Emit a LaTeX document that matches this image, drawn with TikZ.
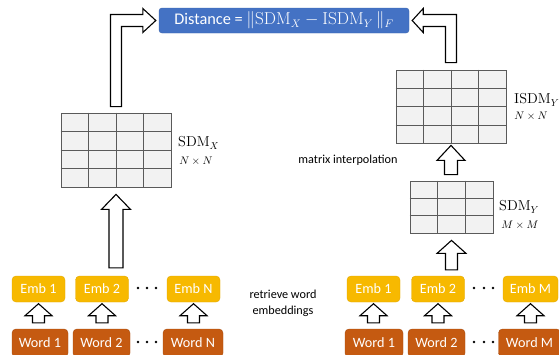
\documentclass[tikz,border=0pt]{standalone}
\usepackage[no-math]{fontspec}
\setmainfont{Carlito}
\usetikzlibrary{calc}
\definecolor{dblue}{HTML}{4472C4}
\definecolor{dbluel}{HTML}{3A64AE}
\definecolor{embc}{HTML}{F7B900}
\definecolor{embl}{HTML}{E2A800}
\definecolor{wordc}{HTML}{C55A11}
\definecolor{wordl}{HTML}{A84C0E}
\definecolor{cellc}{HTML}{F2F2F2}
\definecolor{gridc}{HTML}{5A5A5A}
\newcommand{\blkup}[5]{%
  \draw[blk] let \p1=#1, \p2=#2 in
    (\x2-#3,\y1) -- (\x2-#3,\y2-#5) -- (\x2-#4,\y2-#5) -- (\x2,\y2) --
    (\x2+#4,\y2-#5) -- (\x2+#3,\y2-#5) -- (\x2+#3,\y1) -- cycle;}
\newcommand{\gridon}[2]{%
  \foreach \f in {#2}{%
    \draw[gridl] ($(#1.north west)!\f!(#1.north east)$) -- ($(#1.south west)!\f!(#1.south east)$);
    \draw[gridl] ($(#1.north west)!\f!(#1.south west)$) -- ($(#1.north east)!\f!(#1.south east)$);}}
\begin{document}
\begin{tikzpicture}[x=1pt,y=-1pt,
  blk/.style={draw=black,fill=white,line width=1.1pt,line join=miter},
  gridl/.style={draw=gridc,line width=0.8pt},
  matbox/.style={draw=gridc,fill=cellc,line width=0.8pt,inner sep=0pt},
  embbox/.style={draw=embl,fill=embc,rounded corners=4pt,minimum width=53pt,minimum height=26pt,inner sep=0pt,text=white,font=\fontsize{14.2}{16}\selectfont},
  wordbox/.style={draw=wordl,fill=wordc,rounded corners=4pt,minimum width=57pt,minimum height=28pt,inner sep=0pt,text=white,font=\fontsize{14.2}{16}\selectfont},
  lbl/.style={inner sep=0pt,font=\fontsize{12.2}{16}\selectfont},
  mlbl/.style={inner sep=0pt,anchor=west,font=\fontsize{14}{16}\selectfont},
  slbl/.style={inner sep=0pt,font=\fontsize{10.5}{12}\selectfont},
  dot/.style={circle,fill=black,inner sep=0pt,minimum size=2.6pt}]
\useasboundingbox (0,0) rectangle (559,354);

% distance box
\node[draw=dbluel,fill=dblue,rounded corners=3pt,minimum width=250pt,minimum height=25pt,inner sep=0pt,text=white,font=\fontsize{16.3}{19}\selectfont] (dist) at (284,20.5)
  {Distance = $\|\mathrm{SDM}_X - \mathrm{ISDM}_Y\,\|_F$};

% matrices
\node[matbox,minimum width=110pt,minimum height=74pt] (mx) at (116,150) {};
\gridon{mx}{0.25,0.5,0.75}
\node[matbox,minimum width=110pt,minimum height=73pt] (mi) at (451,106.5) {};
\gridon{mi}{0.25,0.5,0.75}
\node[matbox,minimum width=83pt,minimum height=52pt] (my) at (451.5,207) {};
\gridon{my}{0.3333,0.6667}

% matrix labels
\node[mlbl] (lx) at (178,143) {$\mathrm{SDM}_X$};
\node[slbl] (nx) at (196,161) {$N \times N$};
\node[mlbl] (li) at (514,100) {$\mathrm{ISDM}_Y$};
\node[slbl] (ni) at (531,116) {$N \times N$};
\node[mlbl] (ly) at (499,207) {$\mathrm{SDM}_Y$};
\node[slbl] (ny) at (520,225) {$M \times M$};

% texts
\node[lbl] (interp) at (348,160) {matrix interpolation};
\node[lbl,align=center] (retr) at (283,303) {retrieve word\\embeddings};

% embeddings
\node[embbox] (e1) at (38.5,289) {Emb 1};
\node[embbox] (e2) at (102,289) {Emb 2};
\node[embbox] (en) at (193.5,289) {Emb N};
\node[embbox] (f1) at (373.5,289) {Emb 1};
\node[embbox] (f2) at (438,289) {Emb 2};
\node[embbox,minimum width=55pt] (fm) at (530.5,289) {Emb M};

% words
\node[wordbox,minimum width=56pt] (w1) at (40,343) {Word 1};
\node[wordbox] (w2) at (101.5,343) {Word 2};
\node[wordbox,minimum width=60pt] (wn) at (193,343) {Word N};
\node[wordbox,minimum width=58pt] (v1) at (374,343) {Word 1};
\node[wordbox] (v2) at (436.5,343) {Word 2};
\node[wordbox,minimum width=62pt] (vm) at (529.5,343) {Word M};

% dots
\foreach \xx/\nm in {138/a,147/b,156/c}{\node[dot] (de\nm) at (\xx,288) {}; \node[dot] (dw\nm) at (\xx,342) {};}
\foreach \xx/\nm in {474/a,484/b,493/c}{\node[dot] (ge\nm) at (\xx,288) {}; \node[dot] (gw\nm) at (\xx,342) {};}

% small arrows word -> emb
\foreach \w/\e in {w1/e1,w2/e2,wn/en,v1/f1,v2/f2,vm/fm}{%
  \blkup{($(\w.north)+(0,-6)$)}{($(\e.south)+(0,1.5)$)}{6pt}{13.5pt}{12pt}}

% big arrows
\blkup{($(mx.south |- e2.north)+(0,-8)$)}{($(mx.south)+(0,7)$)}{7pt}{14.5pt}{15pt}
\blkup{($(my.south |- f2.north)+(0,-6)$)}{($(my.south)+(0,7)$)}{6pt}{14.5pt}{13pt}
\blkup{($(my.north)+(0,-6)$)}{($(mi.south)+(0,2)$)}{6.5pt}{14pt}{15pt}

% elbow arrows to distance
\draw[blk] let \p1=($(mx.north)+(0,-6)$), \p2=($(dist.west)+(-3,0)$) in
  (\x1-5.5pt,\y1) -- (\x1-5.5pt,\y2+6pt) -- (\x2-13pt,\y2+6pt) -- (\x2-13pt,\y2+12pt) --
  (\x2,\y2) -- (\x2-13pt,\y2-12pt) -- (\x2-13pt,\y2-6pt) -- (\x1+5.5pt,\y2-6pt) --
  (\x1+5.5pt,\y1) -- cycle;
\draw[blk] let \p1=($(mi.north)+(0,-7)$), \p2=($(dist.east)+(3,0)$) in
  (\x1+5.5pt,\y1) -- (\x1+5.5pt,\y2+6pt) -- (\x2+11pt,\y2+6pt) -- (\x2+11pt,\y2+12pt) --
  (\x2,\y2) -- (\x2+11pt,\y2-12pt) -- (\x2+11pt,\y2-6pt) -- (\x1-5.5pt,\y2-6pt) --
  (\x1-5.5pt,\y1) -- cycle;
\end{tikzpicture}
\end{document}
